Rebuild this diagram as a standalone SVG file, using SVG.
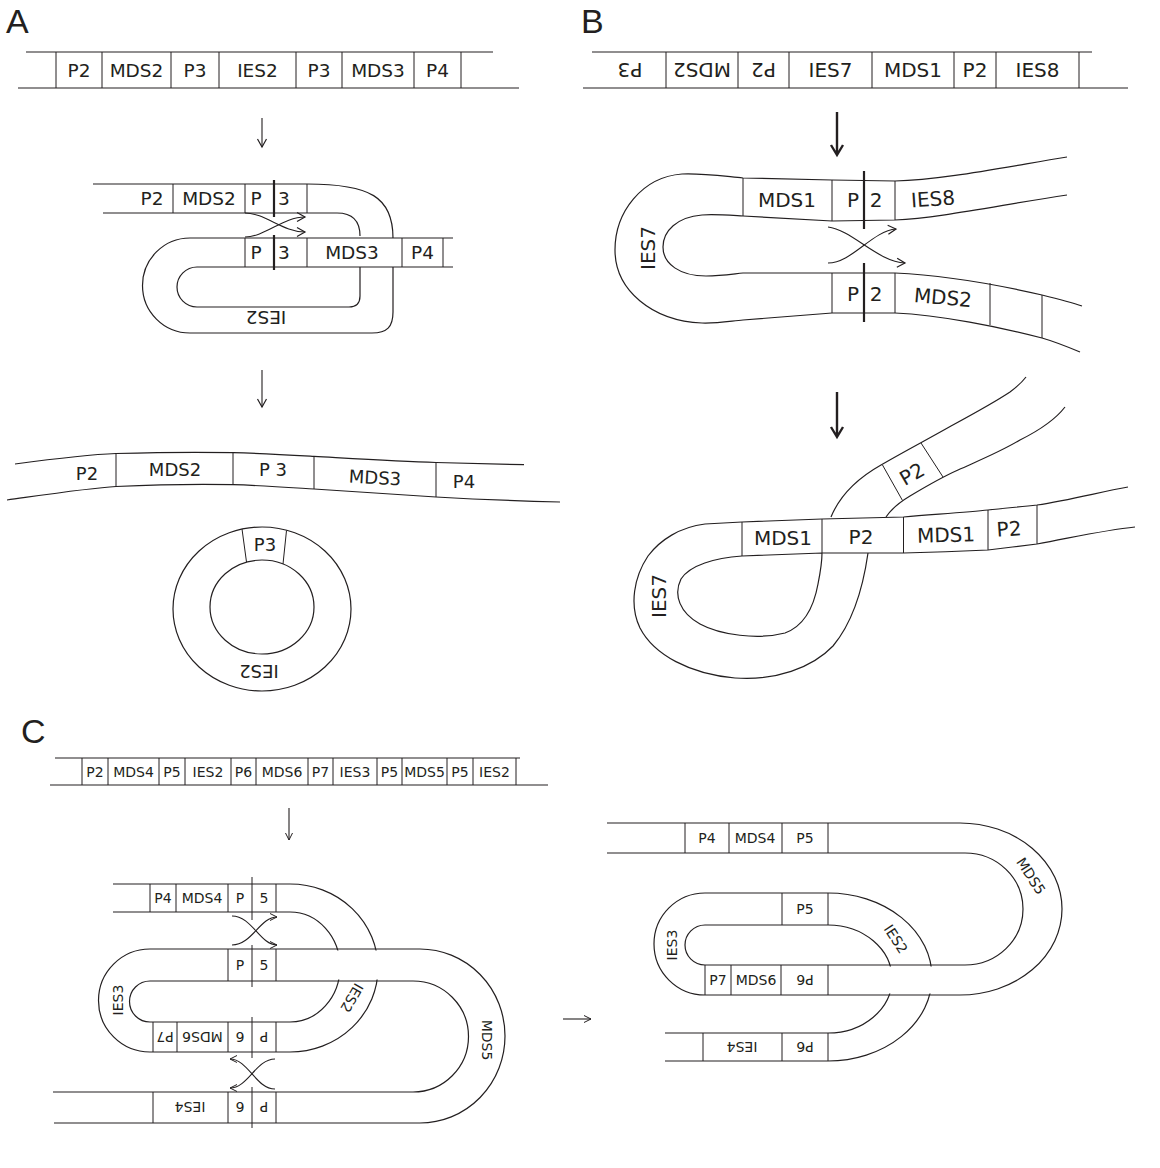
<svg xmlns="http://www.w3.org/2000/svg" width="1160" height="1168" viewBox="0 0 1160 1168">
<style>
.ln{fill:none;stroke:#231f20;stroke-width:1.2}
.dv{fill:none;stroke:#231f20;stroke-width:1}
.tk{fill:none;stroke:#231f20;stroke-width:2.2}
.ar{fill:none;stroke:#231f20;stroke-width:1.1}
.t{font-family:"DejaVu Sans",Verdana,sans-serif;font-size:18.5px;text-anchor:middle;fill:#231f20}
.b{font-size:20px}
.c{font-size:14px}
.pl{font-family:"Liberation Sans",Arial,sans-serif;font-size:34px;fill:#231f20}
</style>
<defs>
<marker id="ah" markerUnits="userSpaceOnUse" markerWidth="12" markerHeight="12" viewBox="0 0 12 12" refX="10" refY="6" orient="auto"><path d="M2,1.5 L10,6 L2,10.5" fill="none" stroke="#231f20" stroke-width="1.2"/></marker>
<marker id="as" markerUnits="userSpaceOnUse" markerWidth="10" markerHeight="10" viewBox="0 0 10 10" refX="9" refY="5" orient="auto"><path d="M2,1.5 L9,5 L2,8.5" fill="none" stroke="#231f20" stroke-width="1"/></marker>
</defs>
<rect width="1160" height="1168" fill="#fff"/>

<!-- Panel labels -->
<text class="pl" x="6" y="33">A</text>
<text class="pl" x="581" y="33">B</text>
<text class="pl" x="21" y="743">C</text>

<!-- ===== Panel A ===== -->
<g id="A-strip">
<path class="ln" d="M26,52 H493 M18,88 H519"/>
<path class="dv" d="M56,52V88 M102,52V88 M171,52V88 M219,52V88 M296,52V88 M342,52V88 M414,52V88 M461,52V88"/>
<text class="t" x="79" y="77">P2</text>
<text class="t" x="136.5" y="77">MDS2</text>
<text class="t" x="195" y="77">P3</text>
<text class="t" x="257.5" y="77">IES2</text>
<text class="t" x="319" y="77">P3</text>
<text class="t" x="378" y="77">MDS3</text>
<text class="t" x="437.5" y="77">P4</text>
</g>

<g id="A-loop">
<path class="ln" d="M93,184 H307 C370,184 393,197 393,238 M393,267 V312 C393,327 387,333 372,333 H190 A47.5,47.5 0 0 1 190,238 H453"/>
<path class="ln" d="M103,213 H337 C352,213 360,221 360,236 M360,267 V296 C360,304 356,307 349,307 H197 A20,20 0 0 1 197,267 H453"/>
<path class="dv" d="M173,184V213 M245,184V213 M307,184V213 M245,238V267 M307,238V267 M402,238V267 M443,238V267"/>
<path class="tk" d="M274,180V217 M274,235V270"/>
<text class="t" x="152" y="205">P2</text>
<text class="t" x="209" y="205">MDS2</text>
<text class="t" x="256" y="205">P</text>
<text class="t" x="284" y="205">3</text>
<text class="t" x="256" y="259">P</text>
<text class="t" x="284" y="259">3</text>
<text class="t" x="352" y="259">MDS3</text>
<text class="t" x="422.5" y="259">P4</text>
<text class="t" x="266" y="324.7" transform="rotate(180 266 318)">IES2</text>
</g>

<g id="A-linear">
<path class="ln" d="M15,464 C60,458 90,454.5 116,453.5 C160,452.3 200,452 233,452.7 C262,453.3 290,455 314,456.4 C360,459 400,461.5 436,462.5 C470,463.5 500,464.2 524,464.7"/>
<path class="ln" d="M7,500 C50,494 90,488 116,486.5 C160,484.5 200,484 233,484.7 C262,485.5 290,487.5 314,489 C360,492 400,495 436,497 C480,499.5 520,501 560,502"/>
<path class="dv" d="M116,453.5V486.5 M233,452.7V484.7 M314,456.4V489 M436,462.5V497"/>
<text class="t" x="87" y="479.5" style="font-size:18px">P2</text>
<text class="t" x="175" y="476" style="font-size:18px">MDS2</text>
<text class="t" x="273" y="476" style="font-size:18px">P 3</text>
<text class="t" x="375" y="484" style="font-size:18px" transform="rotate(3 375 477)">MDS3</text>
<text class="t" x="464" y="488" style="font-size:18px">P4</text>
</g>

<g id="A-ring">
<ellipse class="ln" cx="262" cy="609" rx="89" ry="82"/>
<ellipse class="ln" cx="262" cy="607" rx="52" ry="47"/>
<path class="dv" d="M242,529 L246.5,562 M286.5,530.5 L283,564"/>
<text class="t" x="265" y="551" style="font-size:18px">P3</text>
<text class="t" x="259" y="677.5" style="font-size:18px" transform="rotate(180 259 671)">IES2</text>
</g>

<!-- ===== Panel B ===== -->
<g id="B-strip">
<path class="ln" d="M592,52 H1092 M583,88 H1128"/>
<path class="dv" d="M666,52V88 M738,52V88 M789,52V88 M872,52V88 M954,52V88 M996,52V88 M1079,52V88"/>
<text class="t b" x="630" y="77.3" transform="rotate(180 630 70)">P3</text>
<text class="t b" x="702" y="77.3" transform="rotate(180 702 70)">MDS2</text>
<text class="t b" x="763.5" y="77.3" transform="rotate(180 763.5 70)">P2</text>
<text class="t b" x="830.5" y="77.3">IES7</text>
<text class="t b" x="913" y="77.3">MDS1</text>
<text class="t b" x="975" y="77.3">P2</text>
<text class="t b" x="1037.5" y="77.3">IES8</text>
</g>

<g id="B-hairpin">
<path class="ln" d="M1067,157 C1000,168 940,180 895,181 L832,180 L743,178 C722,176 700,173 682,174 C642,177 615,212 615,250 C615,290 652,321 702,323 C718,323.5 731,321 743,320 L832,313 L895,313 C940,315 1000,327 1042,338 C1056,342 1068,347 1080,352"/>
<path class="ln" d="M1067,195 C1000,205 940,218 895,220 L832,221 L743,216 C726,215 713,214 702,215 C677,217 663,231 663,247 C663,264 680,276 706,276 C721,276 733,274 743,273 L832,273 L895,273 C940,275 990,283 1042,295 C1058,299 1070,302 1082,306"/>
<path class="dv" d="M743,178V216 M832,180V221 M895,181V220 M832,273V313 M895,273V313 M990,283V325 M1042,295V338"/>
<path class="tk" d="M864,171V229 M864,263V322"/>
<text class="t b" x="787" y="207">MDS1</text>
<text class="t b" x="853" y="207">P</text>
<text class="t b" x="876" y="207">2</text>
<text class="t b" x="933" y="206" transform="rotate(-4 933 199)">IES8</text>
<text class="t b" x="853" y="300.5">P</text>
<text class="t b" x="876" y="300.5">2</text>
<text class="t b" x="943" y="304.5" transform="rotate(5 943 297)">MDS2</text>
<text class="t b" x="648" y="255.3" transform="rotate(-90 648 248)">IES7</text>
</g>

<g id="B-figure8">
<path class="ln" d="M1128,487 C1100,492 1070,500 1037,505 C1020,507 1005,508 988,510 C970,512 940,514 903.5,517 L822,519 L742,522 L705,524 C680,527 660,540 648,556 C634,577 629,605 640,628 C654,655 690,674 735,678 C775,681 812,668 833,646 C853,622 863,588 868,553"/>
<path class="ln" d="M1135,527 C1105,530 1075,537 1037,544 C1020,546 1005,548 988,550 C965,551 940,552 903.5,553 L822,553 L742,556 C715,558 690,565 681,579 C673,595 680,613 700,624 C720,635 758,640 785,633 C804,626 814,606 818,584 C821,569 822,560 822,553"/>
<path class="ln" d="M831,517 C840,495 858,478 881,465 C905,451 930,438 951,426 C975,413 995,402 1010,392 C1018,386 1023,381 1026,377"/>
<path class="ln" d="M886,517 C892,508 900,502 910,496 C925,487 940,478 958,470 C980,460 1000,452 1020,440 C1040,430 1055,420 1065,407"/>
<path class="dv" d="M742,522V556 M822,519V553 M903.5,517V553 M988,510V550 M1037,505V544 M882.5,465 L902.5,500.5 M921,443 L943,477"/>
<text class="t b" x="783" y="545">MDS1</text>
<text class="t b" x="861" y="544">P2</text>
<text class="t b" x="946" y="542" transform="rotate(-1.5 946 535)">MDS1</text>
<text class="t b" x="1009" y="536" transform="rotate(-4 1009 529)">P2</text>
<text class="t b" x="912" y="481" transform="rotate(-30 912 474)">P2</text>
<text class="t b" x="659" y="603.3" transform="rotate(-90 659 596)">IES7</text>
</g>

<!-- ===== Panel C ===== -->
<g id="C-strip">
<path class="ln" d="M55,758 H520 M50,785 H548"/>
<path class="dv" d="M82,758V785 M108,758V785 M159,758V785 M185,758V785 M231,758V785 M256,758V785 M308,758V785 M333,758V785 M377,758V785 M402,758V785 M447,758V785 M473,758V785 M516,758V785"/>
<text class="t c" x="95" y="776.5">P2</text>
<text class="t c" x="133.5" y="776.5">MDS4</text>
<text class="t c" x="172" y="776.5">P5</text>
<text class="t c" x="208" y="776.5">IES2</text>
<text class="t c" x="243.5" y="776.5">P6</text>
<text class="t c" x="282" y="776.5">MDS6</text>
<text class="t c" x="320.5" y="776.5">P7</text>
<text class="t c" x="355" y="776.5">IES3</text>
<text class="t c" x="389.5" y="776.5">P5</text>
<text class="t c" x="424.5" y="776.5">MDS5</text>
<text class="t c" x="460" y="776.5">P5</text>
<text class="t c" x="494.5" y="776.5">IES2</text>
</g>

<g id="C-left">
<path class="ln" d="M113,884 H290 A88,84 0 0 1 290,1052 H150 A51.5,51.5 0 0 1 150,949 H420 A85,87 0 0 1 420,1123 H54"/>
<path class="ln" d="M113,912 H290 A50,55 0 0 1 290,1022 H150 A20.5,20.5 0 0 1 150,981 H413 A55.5,55.5 0 0 1 413,1092 H53"/>
<rect x="330" y="950.5" width="56" height="29" fill="#fff"/>
<path class="dv" d="M150,884V912 M176,884V912 M228,884V912 M276,884V912 M228,949V981 M276,949V981 M153,1022V1052 M177,1022V1052 M228,1022V1052 M276,1022V1052 M153,1092V1123 M228,1092V1123 M276,1092V1123"/>
<path class="dv" d="M252,877V920 M252,945V987 M252,1017V1058 M252,1087V1128"/>
<text class="t c" x="163" y="903">P4</text>
<text class="t c" x="202" y="903">MDS4</text>
<text class="t c" x="240" y="903">P</text>
<text class="t c" x="264" y="903">5</text>
<text class="t c" x="240" y="970">P</text>
<text class="t c" x="264" y="970">5</text>
<text class="t c" x="165" y="1042.1" transform="rotate(180 165 1037)">P7</text>
<text class="t c" x="202.5" y="1042.1" transform="rotate(180 202.5 1037)">MDS6</text>
<text class="t c" x="240" y="1042.1" transform="rotate(180 240 1037)">6</text>
<text class="t c" x="264" y="1042.1" transform="rotate(180 264 1037)">P</text>
<text class="t c" x="190" y="1112.6" transform="rotate(180 190 1107.5)">IES4</text>
<text class="t c" x="240" y="1112.6" transform="rotate(180 240 1107.5)">6</text>
<text class="t c" x="264" y="1112.6" transform="rotate(180 264 1107.5)">P</text>
<text class="t c" x="118" y="1005.1" transform="rotate(-90 118 1000)">IES3</text>
<text class="t c" x="352" y="1003.1" transform="rotate(120 352 998)">IES2</text>
<text class="t c" x="487" y="1045.1" transform="rotate(90 487 1040)">MDS5</text>
</g>

<g id="C-right">
<path class="ln" d="M607,823 H960 A102,86 0 0 1 960,995 H705 A51,51 0 0 1 705,893 H828 A104,84 0 0 1 828,1061 H665"/>
<path class="ln" d="M607,853 H965 A58,56 0 0 1 965,965 H705 A20,20 0 0 1 705,925 H828 A64,54 0 0 1 828,1033 H665"/>
<rect x="874" y="966.5" width="66" height="27" fill="#fff"/>
<path class="dv" d="M685,823V853 M729,823V853 M782,823V853 M828,823V853 M782,893V925 M828,893V925 M705,965V995 M731,965V995 M781,965V995 M828,965V995 M703,1033V1061 M782,1033V1061 M828,1033V1061"/>
<text class="t c" x="707" y="843">P4</text>
<text class="t c" x="755" y="843">MDS4</text>
<text class="t c" x="805" y="843">P5</text>
<text class="t c" x="805" y="914">P5</text>
<text class="t c" x="718" y="985">P7</text>
<text class="t c" x="756" y="985">MDS6</text>
<text class="t c" x="805" y="985.1" transform="rotate(180 805 980)">P6</text>
<text class="t c" x="742" y="1052.1" transform="rotate(180 742 1047)">IES4</text>
<text class="t c" x="805" y="1052.1" transform="rotate(180 805 1047)">P6</text>
<text class="t c" x="672" y="950.1" transform="rotate(-90 672 945)">IES3</text>
<text class="t c" x="896" y="944.1" transform="rotate(57 896 939)">IES2</text>
<text class="t c" x="1031" y="881.1" transform="rotate(57 1031 876)">MDS5</text>
</g>

<!-- ===== Connectors ===== -->
<g id="connectors">
<path class="ar" d="M262,118 V147" marker-end="url(#ah)"/>
<path class="ar" d="M262,370 V407" marker-end="url(#ah)"/>
<path class="ar" d="M245,213 C265,213 283,232 305,232" marker-end="url(#ah)"/>
<path class="ar" d="M245,237 C265,237 283,217 305,217" marker-end="url(#ah)"/>
<path d="M837,112 V154 M831,145 L837,155 L843,145" fill="none" stroke="#231f20" stroke-width="2.4"/>
<path d="M837,392 V436 M831,427 L837,437 L843,427" fill="none" stroke="#231f20" stroke-width="2.4"/>
<path class="ar" d="M828,227 C852,230 878,262 905,263" marker-end="url(#ah)"/>
<path class="ar" d="M828,263 C852,263 872,231 896,229" marker-end="url(#ah)"/>
<path class="ar" d="M289,808 V840" marker-end="url(#as)"/>
<path class="ar" d="M232,916 C252,916 260,945 277,945" marker-end="url(#as)"/>
<path class="ar" d="M232,945 C252,945 260,917 277,917" marker-end="url(#as)"/>
<path class="ar" d="M275,1059 C256,1059 248,1088 230,1088" marker-end="url(#as)"/>
<path class="ar" d="M275,1089 C256,1089 248,1059 230,1059" marker-end="url(#as)"/>
<path class="ar" d="M563,1019 H591" marker-end="url(#as)"/>
</g>
</svg>
